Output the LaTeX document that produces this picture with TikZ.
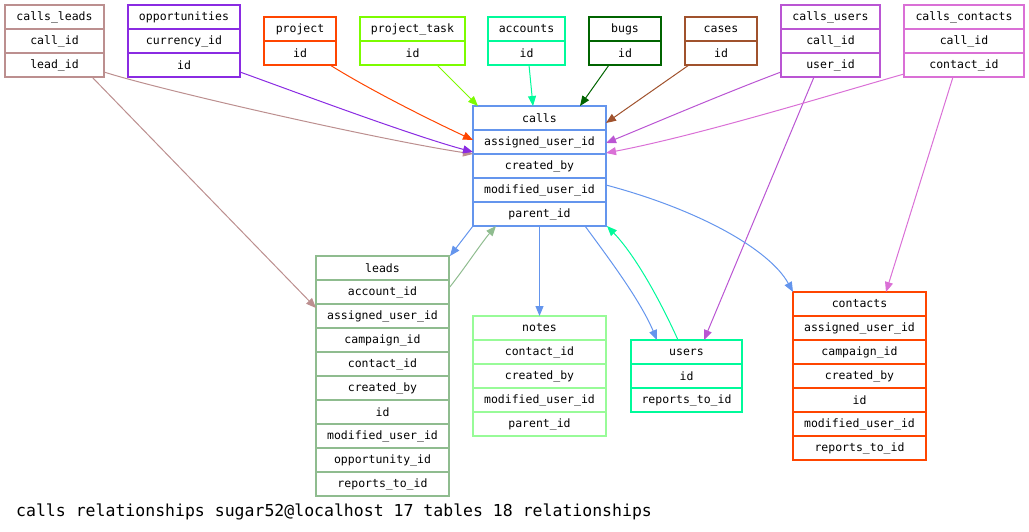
\documentclass[tikz,border=0pt]{standalone}
\usepackage{fontspec}
\setmonofont{DejaVu Sans Mono}
\newfontfamily\cellfont{DejaVu Sans Mono}
\usetikzlibrary{arrows.meta,calc}
\definecolor{crosy}{HTML}{BC8F8F}
\definecolor{cpurple}{HTML}{8A2BE2}
\definecolor{corange}{HTML}{FF4500}
\definecolor{clawn}{HTML}{7CFC00}
\definecolor{cspring}{HTML}{00FA9A}
\definecolor{cdkgreen}{HTML}{006400}
\definecolor{csienna}{HTML}{A0522D}
\definecolor{cmorchid}{HTML}{BA55D3}
\definecolor{corchid}{HTML}{DA70D6}
\definecolor{cblue}{HTML}{6495ED}
\definecolor{cseagreen}{HTML}{8FBC8F}
\definecolor{cpale}{HTML}{98FB98}
\tikzset{
  cell/.style={draw, line width=1.2pt, inner sep=0pt, outer sep=0pt,
    minimum height=24pt, fill=white, text=black,
    font=\cellfont\fontsize{11.5}{13}\selectfont},
  rel/.style={line width=1pt, -{Triangle[length=10pt,width=8pt]}},
  captionstyle/.style={inner sep=0pt, font=\cellfont\fontsize{16.5}{19}\selectfont}
}
% #1 name, #2 left, #3 top, #4 width, #5 colour, #6 rows
\newcommand\dbtable[6]{%
  \foreach \rowtext [count=\i from 0] in {#6} {
    \node[cell, draw=#5, minimum width=#4pt] (#1-\i) at ({#2+#4/2},{#3+12+24*\i}) {\rowtext};
  }}
\begin{document}
\begin{tikzpicture}[x=1pt,y=-1pt]
\useasboundingbox (0,0) rectangle (1029,531);
\dbtable{cleads}{5}{5}{99}{crosy}{calls\_leads,call\_id,lead\_id}
\dbtable{opps}{128}{5}{112}{cpurple}{opportunities,currency\_id,id}
\dbtable{project}{264}{17}{72}{corange}{project,id}
\dbtable{ptask}{360}{17}{105}{clawn}{project\_task,id}
\dbtable{accounts}{488}{17}{77}{cspring}{accounts,id}
\dbtable{bugs}{589}{17}{72}{cdkgreen}{bugs,id}
\dbtable{cases}{685}{17}{72}{csienna}{cases,id}
\dbtable{cusers}{781}{5}{99}{cmorchid}{calls\_users,call\_id,user\_id}
\dbtable{ccontacts}{904}{5}{120}{corchid}{calls\_contacts,call\_id,contact\_id}
\dbtable{calls}{473}{106}{133}{cblue}{calls,assigned\_user\_id,created\_by,modified\_user\_id,parent\_id}
\dbtable{leads}{316}{256}{133}{cseagreen}{leads,account\_id,assigned\_user\_id,campaign\_id,contact\_id,created\_by,id,modified\_user\_id,opportunity\_id,reports\_to\_id}
\dbtable{notes}{473}{316}{133}{cpale}{notes,contact\_id,created\_by,modified\_user\_id,parent\_id}
\dbtable{users}{631}{340}{111}{cspring}{users,id,reports\_to\_id}
\dbtable{contacts}{793}{292}{133}{corange}{contacts,assigned\_user\_id,campaign\_id,created\_by,id,modified\_user\_id,reports\_to\_id}

% relationships
\draw[rel,crosy] ($(cleads-2.east)+(0,7)$) .. controls (160,90) and (380,140) .. (calls-1.south west);
\draw[rel,crosy] ($(cleads-2.south west)+(87,0)$) -- ($(leads-2.north west)+(0,4)$);
\draw[rel,cpurple] ($(opps-2.east)+(0,7)$) .. controls (290,90) and (410,135) .. ($(calls-1.south west)+(0,-2)$);
\draw[rel,corange] ($(project-1.south east)+(-6,0)$) .. controls (370,90) and (430,120) .. ($(calls-1.west)+(0,-2)$);
\draw[rel,clawn] ($(ptask-1.south west)+(77,0)$) -- ($(calls-0.north west)+(5,0)$);
\draw[rel,cspring] ($(accounts-1.south west)+(41,0)$) -- ($(calls-0.north)+(-6.5,0)$);
\draw[rel,cdkgreen] ($(bugs-1.south west)+(20,0)$) -- ($(calls-0.north east)+(-26,0)$);
\draw[rel,csienna] ($(cases-1.south west)+(4,0)$) -- ($(calls-0.east)+(0,5)$);
\draw[rel,cmorchid] ($(cusers-2.west)+(0,7)$) .. controls (720,95) and (650,125) .. ($(calls-1.east)+(0,1)$);
\draw[rel,cmorchid] ($(cusers-2.south west)+(33,0)$) -- ($(users-0.north west)+(73,0)$);
\draw[rel,corchid] ($(ccontacts-2.west)+(0,9)$) .. controls (830,95) and (700,135) .. ($(calls-1.south east)+(0,-1)$);
\draw[rel,corchid] ($(ccontacts-2.south west)+(49,0)$) -- ($(contacts-0.north west)+(93,0)$);
\draw[rel,cblue] (calls-4.south west) -- ($(leads-0.north east)+(1,0)$);
\draw[rel,cseagreen] ($(leads-1.east)+(0,-4)$) .. controls (462,272) and (482,242) .. ($(calls-4.south west)+(23,0)$);
\draw[rel,cblue] (calls-4.south) -- (notes-0.north);
\draw[rel,cblue] ($(calls-4.south east)+(-21,0)$) .. controls (610,260) and (640,300) .. ($(users-0.north west)+(26,0)$);
\draw[rel,cspring] ($(users-0.north west)+(47,0)$) .. controls (660,300) and (635,255) .. ($(calls-4.south east)+(1,0)$);
\draw[rel,cblue] ($(calls-3.east)+(0,-5)$) .. controls (700,210) and (770,250) .. (contacts-0.north west);

\node[captionstyle, anchor=base west] (caption) at (16,516) {calls relationships sugar52@localhost 17 tables 18 relationships};
\end{tikzpicture}
\end{document}
